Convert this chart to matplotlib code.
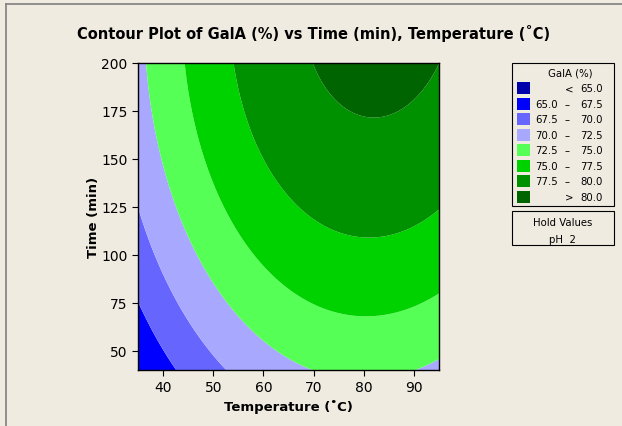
import numpy as np
import matplotlib
matplotlib.use("Agg")
import matplotlib.pyplot as plt
from matplotlib.patches import Rectangle

# points: temperature (C), time (min), GalA (%)
level_temp = [35.0, 38.8, 42.5,
              35.1, 38.1, 43.1, 47.5, 52.5,
              36.6, 39.8, 43.5, 46.5, 52.5, 58.5, 65.2, 69.7, 90.9, 95.0,
              44.3, 48.0, 53.2, 57.8, 64.5, 78.6, 95.0,
              54.0, 59.5, 65.2, 67.5, 80.9, 93.6, 95.0,
              69.7, 73.5, 81.9, 91.9, 94.8]
level_time = [75.9, 57.1, 40.0,
              121.4, 100.0, 74.5, 57.1, 40.0,
              200.0, 152.6, 118.8, 100.0, 74.5, 57.1, 46.7, 40.0, 40.0, 45.8,
              200.0, 152.6, 118.8, 104.0, 84.0, 68.4, 80.0,
              200.0, 152.6, 130.0, 121.4, 109.2, 121.4, 124.0,
              200.0, 183.9, 171.7, 183.9, 200.0]
level_value = [67.5] * 3 + [70.0] * 5 + [72.5] * 10 + [75.0] * 7 + [77.5] * 7 + [80.0] * 5

bounds = [65.0, 67.5, 70.0, 72.5, 75.0, 77.5, 80.0]
band_colors = ['#0000AA', '#0000FF', '#6666FF', '#A8A8FF',
               '#55FF55', '#00D200', '#009100', '#006400']
temp_ticks = [40, 50, 60, 70, 80, 90]
time_ticks = [50, 75, 100, 125, 150, 175, 200]
hold_ph = 2

bg = '#EFEBE1'

# full quadratic response surface fitted to the contour points
T = np.array(level_temp)
t = np.array(level_time)
y = np.array(level_value)
def design(T, t):
    a = (T - 65.0) / 30.0
    b = (t - 120.0) / 80.0
    return np.column_stack([np.ones_like(a), a, b, a * a, b * b, a * b])
coef, *_ = np.linalg.lstsq(design(T, t), y, rcond=None)

tg, mg = np.meshgrid(np.linspace(35, 95, 301), np.linspace(40, 200, 321))
Z = (design(tg.ravel(), mg.ravel()) @ coef).reshape(tg.shape)

fig = plt.figure(figsize=(6.22, 4.27), dpi=100, facecolor=bg)
W, H = 622.0, 427.0
ax = fig.add_axes([138 / W, 1 - 371 / H, 301 / W, 307 / H])

levels = [min(Z.min(), 60.0) - 1] + bounds + [max(Z.max(), 85.0) + 1]
ax.contourf(tg, mg, Z, levels=levels, colors=band_colors, antialiased=True)

ax.set_xlim(35, 95)
ax.set_ylim(40, 200)
ax.set_xticks(temp_ticks)
ax.set_yticks(time_ticks)
ax.tick_params(direction='out', length=4, width=0.8, labelsize=10, pad=3.5)
for s in ax.spines.values():
    s.set_color('black')
    s.set_linewidth(1)
ax.set_xlabel('Temperature (˚C)', fontsize=9.5, fontweight='bold', labelpad=3)
ax.set_ylabel('Time (min)', fontsize=9.5, fontweight='bold', labelpad=1)

# overlay in pixel coordinates for title, legend and frame
ov = fig.add_axes([0, 0, 1, 1], facecolor='none')
ov.set_xlim(0, W)
ov.set_ylim(H, 0)
ov.axis('off')

ov.text(314, 33, 'Contour Plot of GalA (%) vs Time (min), Temperature (˚C)',
        ha='center', va='center', fontsize=10.5, fontweight='bold')

ov.plot([6, 6], [5, H], color='#808080', lw=1.2)
ov.plot([6, W], [5, 5], color='#808080', lw=1.2)

fs = 7.3
ov.add_patch(Rectangle((512, 64), 102, 143, fill=False, ec='black', lw=0.8))
ov.text(570, 74, 'GalA (%)', ha='center', va='center', fontsize=fs)
labels_lo = [None] + ['%.1f' % b for b in bounds[:-1]] + [None]
labels_hi = ['%.1f' % b for b in bounds] + ['%.1f' % bounds[-1]]
for i, c in enumerate(band_colors):
    yc = 89.3 + 15.5 * i
    ov.add_patch(Rectangle((517, yc - 6), 13, 12, fc=c, ec='none'))
    if i == 0:
        ov.text(569.5, yc, '<', ha='center', va='center', fontsize=fs)
    elif i == len(band_colors) - 1:
        ov.text(569.5, yc, '>', ha='center', va='center', fontsize=fs)
    else:
        ov.text(558, yc, labels_lo[i], ha='right', va='center', fontsize=fs)
        ov.text(567, yc, '–', ha='center', va='center', fontsize=fs)
    ov.text(603, yc, labels_hi[i], ha='right', va='center', fontsize=fs)

ov.add_patch(Rectangle((512, 212), 102, 34, fill=False, ec='black', lw=0.8))
ov.text(562.5, 223, 'Hold Values', ha='center', va='center', fontsize=fs)
ov.text(562, 240, 'pH  %d' % hold_ph, ha='center', va='center', fontsize=fs)

fig.savefig('out.png', dpi=100, facecolor=bg)
